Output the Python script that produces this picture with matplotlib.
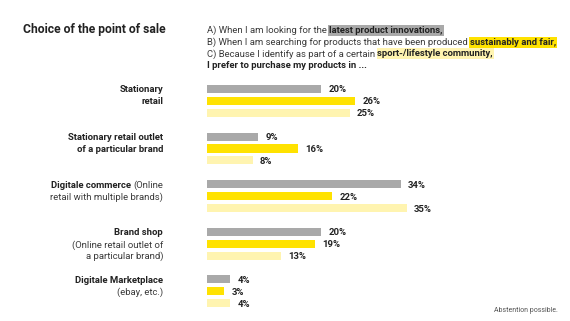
import matplotlib
matplotlib.use('Agg')
import matplotlib.pyplot as plt

plt.rcParams['font.family'] = ['Roboto', 'DejaVu Sans']

# ---------------- data ----------------
categories = [
    "Stationary retail",
    "Stationary retail outlet of a particular brand",
    "Digitale commerce (Online retail with multiple brands)",
    "Brand shop (Online retail outlet of a particular brand)",
    "Digitale Marketplace (ebay, etc.)",
]
# label lines: list of (text, bold) segments per line
category_lines = [
    [[("Stationary", True)], [("retail", True)]],
    [[("Stationary retail outlet", True)], [("of a particular brand", True)]],
    [[("Digitale commerce", True), (" (Online", False)], [("retail with multiple brands)", False)]],
    [[("Brand shop", True)], [("(Online retail outlet of", False)], [("a particular brand)", False)]],
    [[("Digitale Marketplace", True)], [("(ebay, etc.)", False)]],
]
values_a = [20, 9, 34, 20, 4]   # latest product innovations
values_b = [26, 16, 22, 19, 3]  # sustainably and fair
values_c = [25, 8, 35, 13, 4]   # sport-/lifestyle community

title = "Choice of the point of sale"
legend_lines = [
    [("A) When I am looking for the ", False, None), ("latest product innovations,", True, 0)],
    [("B) When I am searching for products that have been produced ", False, None), ("sustainably and fair,", True, 1)],
    [("C) Because I identify as part of a certain ", False, None), ("sport-/lifestyle community,", True, 2)],
    [("I prefer to purchase my products in ...", True, None)],
]
note = "Abstention possible."

colors = ['#a9a9a9', '#ffe200', '#fff4b0']
TXT = '#222222'
REG = '#3a3a3a'

# ---------------- layout ----------------
W, H = 570, 321
PX_PER_PCT = 5.7
ROW = 11.9
X0 = 207
Y0 = 89
FS = 6.8

fig = plt.figure(figsize=(W / 100, H / 100), dpi=100)
ax = fig.add_axes([0, 0, 1, 1])
ax.set_xlim(-X0 / PX_PER_PCT, (W - X0) / PX_PER_PCT)
ax.set_ylim((H - Y0) / ROW, -Y0 / ROW)
ax.axis('off')

renderer = fig.canvas.get_renderer()


def space_width(size, bold):
    w = 'bold' if bold else 'normal'
    t1 = fig.text(0, 0, "a a", fontsize=size, fontweight=w)
    t2 = fig.text(0, 0, "aa", fontsize=size, fontweight=w)
    d = t1.get_window_extent(renderer).width - t2.get_window_extent(renderer).width
    t1.remove(); t2.remove()
    return d


def draw_line(x, y, segs, ha='left', size=FS):
    """Draw segments in figure pixel coords (y from top)."""
    order = segs if ha == 'left' else list(reversed(segs))
    cur = x
    for seg in order:
        text, bold = seg[0], seg[1]
        bg = seg[2] if len(seg) > 2 else None
        lead = len(text) - len(text.lstrip(' '))
        trail = len(text) - len(text.rstrip(' '))
        core = text.strip(' ')
        sw = space_width(size, bold)
        if ha == 'left':
            cur += lead * sw
        else:
            cur -= trail * sw
        kw = {}
        if bg is not None:
            kw['bbox'] = dict(boxstyle='square,pad=0.1', fc=colors[bg], ec='none')
        t = fig.text(cur / W, 1 - y / H, core, ha=ha, va='center_baseline',
                     fontsize=size, fontweight='bold' if bold else 'normal',
                     color=TXT if bold else REG, **kw)
        bb = t.get_window_extent(renderer)
        if ha == 'left':
            cur = bb.x1 + trail * sw
        else:
            cur = bb.x0 - lead * sw


# bars
series = [values_a, values_b, values_c]
n = len(categories)
for s, vals in enumerate(series):
    ys = [g * 4 + s for g in range(n)]
    ax.barh(ys, vals, height=0.68, color=colors[s], linewidth=0)
    for yy, v in zip(ys, vals):
        ax.text(v + 1.3, yy, f"{v}%", ha='left', va='center_baseline',
                fontsize=FS, fontweight='bold', color=TXT)

# category labels
for g, lines in enumerate(category_lines):
    for i, segs in enumerate(lines):
        draw_line(163, Y0 + (g * 4 + i) * ROW, segs, ha='right')

# title
fig.text(23 / W, 1 - 27.5 / H, title, ha='left', va='center_baseline',
         fontsize=8.7, fontweight='bold', color=TXT)

# legend text
for i, segs in enumerate(legend_lines):
    draw_line(207, 29.5 + i * 11.7, segs, ha='left')

# note
fig.text(558 / W, 1 - 309 / H, note, ha='right', va='center_baseline',
         fontsize=5.0, color='#555555')

fig.savefig('out.png', dpi=100)
